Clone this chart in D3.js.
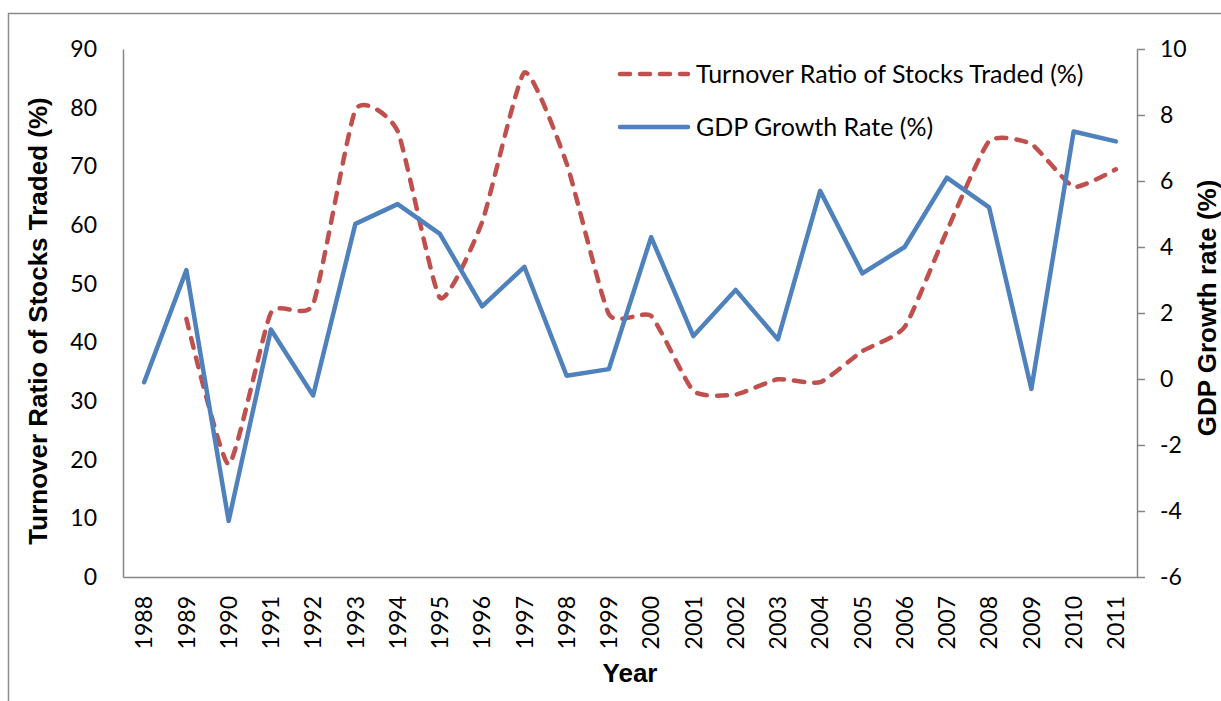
<!DOCTYPE html>
<html>
<head>
<meta charset="utf-8">
<script src="https://cdn.jsdelivr.net/npm/d3@7"></script>
<style>
  body { margin: 0; background: #fff; }
  svg { display: block; }
  .tick text { font-family: Lato, "Open Sans", sans-serif; font-size: 23px; fill: #000; }
  .title { font-family: "Liberation Sans", Arial, sans-serif; font-weight: bold; font-size: 26px; fill: #000; }
  .legend text { font-family: Lato, "Open Sans", sans-serif; font-size: 25px; fill: #000; }
</style>
</head>
<body>
<div id="chart"></div>
<script>
// Data
const years = ["1988", "1989", "1990", "1991", "1992", "1993", "1994", "1995", "1996", "1997", "1998", "1999",
               "2000", "2001", "2002", "2003", "2004", "2005", "2006", "2007", "2008", "2009", "2010", "2011"];
const turnover = [null, 44, 19.2, 45, 46.5, 79.6, 76, 47.6, 60.5, 86, 70.5, 44.8,
                  44.5, 31.7, 31.1, 33.7, 33.2, 38.5, 42.6, 59, 74.3, 73.8, 66.5, 69.5];
const gdpGrowth = [-0.1, 3.3, -4.3, 1.5, -0.5, 4.7, 5.3, 4.4, 2.2, 3.4, 0.1, 0.3,
                   4.3, 1.3, 2.7, 1.2, 5.7, 3.2, 4.0, 6.1, 5.2, -0.3, 7.5, 7.2];
const leftTicks = [0, 10, 20, 30, 40, 50, 60, 70, 80, 90];
const rightTicks = [-6, -4, -2, 0, 2, 4, 6, 8, 10];
const seriesNames = ["Turnover Ratio of Stocks Traded (%)", "GDP Growth Rate (%)"];

const W = 1221, H = 701;
const plot = { left: 123, right: 1137, top: 49, bottom: 577 };
const red = "#C0504D", blue = "#4F81BD", axisGray = "#868686";

const svg = d3.select("#chart").append("svg")
    .attr("width", W)
    .attr("height", H);

// outer chart border (runs off the right and bottom edges)
svg.append("rect")
    .attr("x", 8.5).attr("y", 13.5)
    .attr("width", W).attr("height", H)
    .attr("fill", "none")
    .attr("stroke", "#8c8c8c")
    .attr("stroke-width", 1.5);

// scales
const x = d3.scaleBand().domain(years).range([plot.left, plot.right]).padding(0);
const yL = d3.scaleLinear().domain([0, 90]).range([plot.bottom, plot.top]);
const yR = d3.scaleLinear().domain([-6, 10]).range([plot.bottom, plot.top]);
const cx = d => x(d) + x.bandwidth() / 2;

// left axis
const gL = svg.append("g")
    .attr("transform", `translate(${plot.left},0)`)
    .call(d3.axisLeft(yL).tickValues(leftTicks).tickSize(0).tickPadding(26));

// right axis (plain hyphen for negatives, like the original)
const gR = svg.append("g")
    .attr("transform", `translate(${plot.right},0)`)
    .call(d3.axisRight(yR).tickValues(rightTicks).tickFormat(d => String(d))
        .tickSize(8).tickSizeOuter(0).tickPadding(15));

// bottom axis
const gB = svg.append("g")
    .attr("transform", `translate(0,${plot.bottom})`)
    .call(d3.axisBottom(x).tickSize(0).tickSizeOuter(0));

gB.selectAll(".tick text")
    .attr("transform", "rotate(-90)")
    .attr("text-anchor", "end")
    .attr("x", -19)
    .attr("y", 0)
    .attr("dy", "0.36em");

[gL, gR, gB].forEach(g => {
    g.select(".domain").attr("stroke", axisGray).attr("stroke-width", 1.5);
    g.selectAll(".tick line").attr("stroke", axisGray).attr("stroke-width", 1.5);
    g.selectAll(".tick text").attr("fill", "#000");
});

// lines
const gdpLine = d3.line()
    .x((d, i) => cx(years[i]))
    .y(d => yR(d));

const turnoverLine = d3.line()
    .defined(d => d != null)
    .x((d, i) => cx(years[i]))
    .y(d => yL(d))
    .curve(d3.curveCardinal.tension(0.5));

svg.append("path")
    .datum(turnover)
    .attr("d", turnoverLine)
    .attr("fill", "none")
    .attr("stroke", red)
    .attr("stroke-width", 4.5)
    .attr("stroke-dasharray", "10,10")
    .attr("stroke-linecap", "round")
    .attr("stroke-linejoin", "round");

svg.append("path")
    .datum(gdpGrowth)
    .attr("d", gdpLine)
    .attr("fill", "none")
    .attr("stroke", blue)
    .attr("stroke-width", 4.5)
    .attr("stroke-linecap", "round")
    .attr("stroke-linejoin", "round");

// axis titles
svg.append("text")
    .attr("class", "title")
    .attr("transform", `translate(47,${(plot.top + plot.bottom) / 2 + 8}) rotate(-90)`)
    .attr("text-anchor", "middle")
    .text("Turnover Ratio of Stocks Traded (%)");

svg.append("text")
    .attr("class", "title")
    .attr("transform", `translate(1216,${(plot.top + plot.bottom) / 2 - 5}) rotate(-90)`)
    .attr("text-anchor", "middle")
    .text("GDP Growth rate (%)");

svg.append("text")
    .attr("class", "title")
    .attr("x", 630)
    .attr("y", 682)
    .attr("text-anchor", "middle")
    .text("Year");

// legend
const legend = svg.append("g").attr("class", "legend");
const legendRows = [
    { name: seriesNames[0], color: red, dash: "10,10", y: 74 },
    { name: seriesNames[1], color: blue, dash: null, y: 127 }
];
legendRows.forEach(r => {
    legend.append("line")
        .attr("x1", 620).attr("x2", 688)
        .attr("y1", r.y).attr("y2", r.y)
        .attr("stroke", r.color)
        .attr("stroke-width", 4.5)
        .attr("stroke-linecap", "round")
        .attr("stroke-dasharray", r.dash);
    legend.append("text")
        .attr("x", 696)
        .attr("y", r.y)
        .attr("dy", "0.36em")
        .text(r.name);
});
</script>
</body>
</html>
